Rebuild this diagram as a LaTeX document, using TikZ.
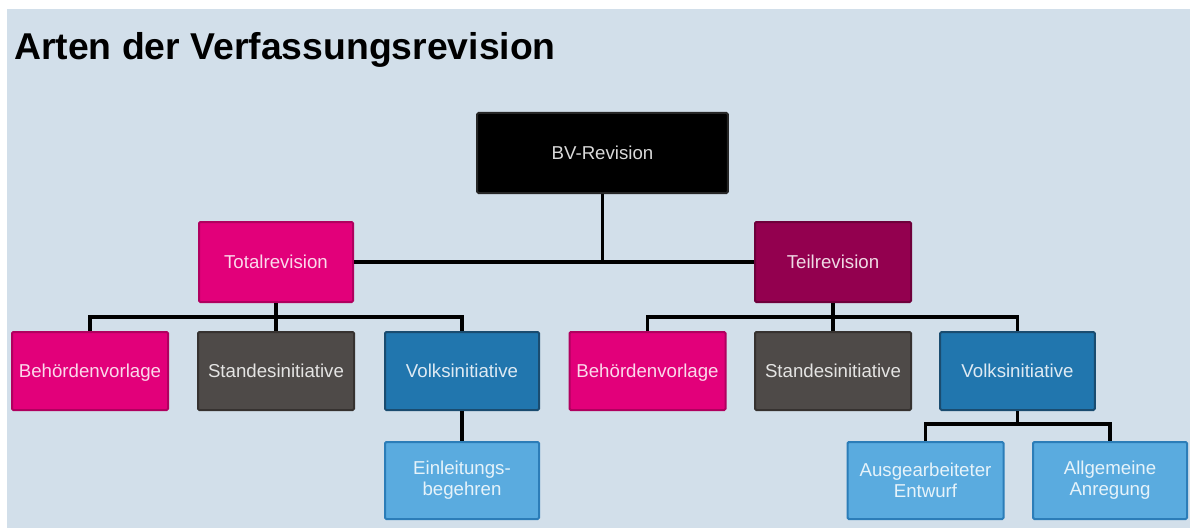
\documentclass[tikz,border=0pt]{standalone}
\usepackage{fontspec}
\setmainfont{Liberation Sans}
\definecolor{bgcol}{HTML}{D2DFEA}
\definecolor{magfill}{HTML}{E2007A}
\definecolor{magdraw}{HTML}{B0005F}
\definecolor{teilfill}{HTML}{93004F}
\definecolor{teildraw}{HTML}{6E003B}
\definecolor{grayfill}{HTML}{4E4A48}
\definecolor{graydraw}{HTML}{363230}
\definecolor{bluefill}{HTML}{2176AE}
\definecolor{bluedraw}{HTML}{1A4C70}
\definecolor{lbluefill}{HTML}{5AABDF}
\definecolor{lbluedraw}{HTML}{2C7DB8}
\tikzset{
  box/.style n args={2}{draw=#2, fill=#1, line width=1.5pt, rounded corners=1pt,
    text=white!85!#1, align=center, inner sep=2pt,
    font=\fontsize{14}{16}\selectfont, minimum height=58.5pt},
  oneline/.style={text height=11pt, text depth=1pt},
  conn/.style={line width=2.6pt, draw=black},
}
\begin{document}
\begin{tikzpicture}[x=0.75pt,y=-0.75pt]
\useasboundingbox (0,0) rectangle (1190,528);
\fill[bgcol] (7,9) rectangle (1190,528);
\node[anchor=base west, font=\bfseries\fontsize{28}{32}\selectfont, inner sep=0pt] (title) at (14,60) {Arten der Verfassungsrevision};

\node[box={black}{black!85!white}, oneline, minimum width=188pt, minimum height=60pt, text=white!85!black] (BV) at (602.5,153) {BV-Revision};
\node[box={magfill}{magdraw}, oneline, minimum width=115.5pt, minimum height=60pt] (Total) at (276,262) {Totalrevision};
\node[box={teilfill}{teildraw}, oneline, minimum width=117pt, minimum height=60pt] (Teil) at (833,262) {Teilrevision};

\node[box={magfill}{magdraw}, oneline, minimum width=117pt] (LBeh) at (90,371) {Behördenvorlage};
\node[box={grayfill}{graydraw}, oneline, minimum width=117pt] (LStand) at (276,371) {Standesinitiative};
\node[box={bluefill}{bluedraw}, oneline, minimum width=115.5pt] (LVolk) at (462,371) {Volksinitiative};
\node[box={magfill}{magdraw}, oneline, minimum width=117pt] (RBeh) at (647.5,371) {Behördenvorlage};
\node[box={grayfill}{graydraw}, oneline, minimum width=117pt] (RStand) at (833,371) {Standesinitiative};
\node[box={bluefill}{bluedraw}, oneline, minimum width=116pt] (RVolk) at (1017.5,371) {Volksinitiative};

\node[box={lbluefill}{lbluedraw}, minimum width=115.5pt, minimum height=57.75pt] (Einl) at (462,480.5) {Einleitungs-\\begehren};
\node[box={lbluefill}{lbluedraw}, minimum width=117pt, minimum height=57.75pt] (Ausg) at (925.5,480.5) {Ausgearbeiteter\\Entwurf};
\node[box={lbluefill}{lbluedraw}, minimum width=115.5pt, minimum height=57.75pt] (Allg) at (1110,480.5) {Allgemeine\\Anregung};

\coordinate (busL) at (276,317);
\coordinate (busR) at (833,317);
\coordinate (busV) at (1017.5,424);

\draw[conn] (Total.east) -- (Teil.west);
\draw[conn] (BV.south) -- (BV.south |- Total.east);
\draw[conn] (LBeh.north) |- (busL) -| (LVolk.north);
\draw[conn] (Total.south) -- (LStand.north);
\draw[conn] (RBeh.north) |- (busR) -| (RVolk.north);
\draw[conn] (Teil.south) -- (RStand.north);
\draw[conn] (LVolk.south) -- (Einl.north);
\draw[conn] (RVolk.south) -- (busV);
\draw[conn] (Ausg.north) |- (busV) -| (Allg.north);
\end{tikzpicture}
\end{document}
